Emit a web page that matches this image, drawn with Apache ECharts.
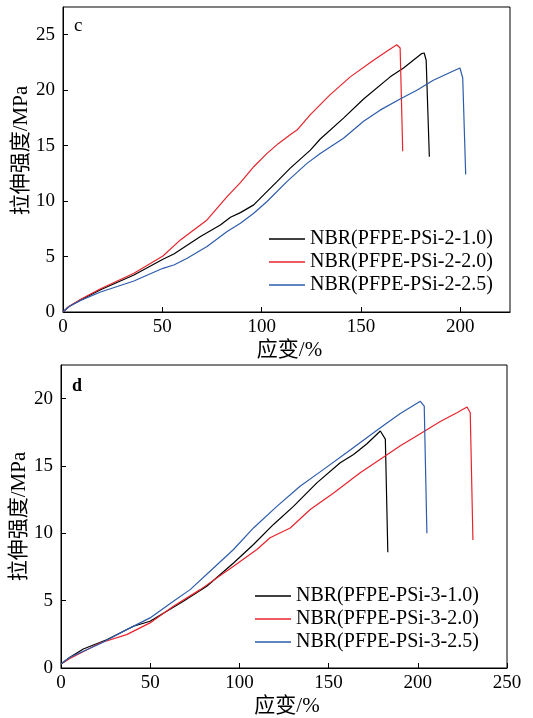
<!DOCTYPE html>
<html>
<head>
<meta charset="utf-8">
<script src="https://cdn.jsdelivr.net/npm/echarts@6/dist/echarts.min.js"></script>
<style>html,body{margin:0;padding:0;background:#fff;}#chart{width:533px;height:718px;}</style>
</head>
<body>
<div id="chart"></div>
<script>
// Panel c
var namesC = ['NBR(PFPE-PSi-2-1.0)', 'NBR(PFPE-PSi-2-2.0)', 'NBR(PFPE-PSi-2-2.5)'];
var strainC1 = [0, 3, 8.9, 18.9, 35.7, 50.3, 55.8, 69.2, 79.2, 84.3, 89.3, 96, 101, 107.7, 114.4, 124.5, 129.5, 141.2, 151.3, 164.7, 171.4, 180.6, 181.8, 182.8, 184.4];
var stressC1 = [0, 0.5, 1.08, 2.0, 3.34, 4.75, 5.23, 6.8, 7.85, 8.54, 8.96, 9.66, 10.56, 11.76, 12.97, 14.6, 15.6, 17.48, 19.2, 21.2, 22.0, 23.3, 23.35, 22.7, 14.0];
var strainC2 = [0, 3, 8.9, 18.9, 35.7, 50.3, 59.1, 72.5, 82.6, 89.3, 96, 102.7, 108.5, 115.2, 117.8, 124.5, 134.5, 144.6, 156.3, 163, 168, 168.8, 169.7, 171];
var stressC2 = [0, 0.5, 1.15, 2.1, 3.5, 5.05, 6.5, 8.3, 10.4, 11.67, 13.1, 14.3, 15.2, 16.1, 16.4, 17.8, 19.6, 21.2, 22.7, 23.5, 24.1, 24.2, 23.8, 14.5];
var strainC3 = [0, 3, 8.9, 18.9, 35.7, 50.3, 55.8, 62.5, 72.5, 82.6, 89.3, 96, 102.7, 112.7, 122.8, 129.5, 141.2, 151.3, 159.6, 169.7, 178.1, 186.4, 194.8, 199.8, 201.2, 202.7];
var stressC3 = [0, 0.5, 1.05, 1.8, 2.8, 3.94, 4.24, 4.84, 5.9, 7.25, 8.0, 8.9, 9.96, 11.76, 13.4, 14.3, 15.67, 17.2, 18.2, 19.2, 20.0, 20.9, 21.6, 22.0, 21.1, 12.4];
// Panel d
var namesD = ['NBR(PFPE-PSi-3-1.0)', 'NBR(PFPE-PSi-3-2.0)', 'NBR(PFPE-PSi-3-2.5)'];
var strainD1 = [0, 5, 12.5, 25.6, 40.6, 49.9, 68.6, 81.7, 96.7, 107.9, 119.1, 130.3, 143.4, 156.5, 164, 171.5, 179, 179.9, 181.8, 183.2];
var stressD1 = [0.3, 0.8, 1.41, 2.1, 3.1, 3.47, 4.96, 6.07, 7.8, 9.17, 10.66, 12.0, 13.75, 15.24, 15.86, 16.65, 17.6, 17.5, 17.0, 8.6];
var strainD2 = [0, 5, 21.9, 36.8, 49.9, 63, 78, 96.7, 109.8, 117.2, 128.5, 139.7, 152.8, 167.7, 179, 190.2, 201.4, 212.6, 221.9, 227.6, 229.4, 230.9];
var stressD2 = [0.3, 0.7, 1.86, 2.48, 3.35, 4.58, 5.82, 7.56, 8.8, 9.67, 10.4, 11.77, 13.0, 14.5, 15.5, 16.5, 17.4, 18.3, 18.96, 19.38, 18.96, 9.5];
var strainD3 = [0, 5, 21.9, 36.8, 49.9, 63, 72.4, 85.5, 96.7, 107.9, 121, 134, 147.2, 160.2, 175.2, 182.7, 190.2, 201.4, 202.3, 203.6, 205.1];
var stressD3 = [0.3, 0.8, 1.8, 2.85, 3.72, 4.96, 5.82, 7.43, 8.8, 10.4, 12.0, 13.5, 14.75, 16.0, 17.47, 18.2, 18.9, 19.8, 19.85, 19.45, 10.0];
var xTicksC = [0, 50, 100, 150, 200];
var yTicksC = [0, 5, 10, 15, 20, 25];
var xTicksD = [0, 50, 100, 150, 200, 250];
var yTicksD = [0, 5, 10, 15, 20];

var colors = ['#000000', '#e8232b', '#2d5cab'];
var FONT = "'Liberation Serif', 'Noto Sans CJK SC', serif";

function zip(xs, ys) { return xs.map(function (x, i) { return [x, ys[i]]; }); }

function xAxis(grid, max, ticks) {
  return {
    type: 'value', gridIndex: grid, min: 0, max: max,
    name: '应变/%', nameLocation: 'middle', nameGap: 28, nameMoveOverlap: false,
    nameTextStyle: { fontFamily: FONT, fontSize: 21, color: '#000', padding: [0, 0, 0, 6] },
    axisLine: { show: true, lineStyle: { color: '#000', width: 1 } },
    axisTick: { show: true, inside: true, length: 5, customValues: ticks, lineStyle: { color: '#000' } },
    axisLabel: { customValues: ticks, fontFamily: FONT, fontSize: 19, color: '#000', margin: 6 },
    splitLine: { show: false }
  };
}
function yAxis(grid, max, ticks, shift) {
  return {
    type: 'value', gridIndex: grid, min: 0, max: max,
    name: '拉伸强度/MPa', nameLocation: 'middle', nameGap: 31, nameMoveOverlap: false,
    nameTextStyle: { fontFamily: FONT, fontSize: 21, color: '#000', padding: [0, 0, 0, shift] },
    axisLine: { show: true, lineStyle: { color: '#000', width: 1 } },
    axisTick: { show: true, inside: true, length: 5, customValues: ticks, lineStyle: { color: '#000' } },
    axisLabel: { customValues: ticks, fontFamily: FONT, fontSize: 19, color: '#000', margin: 8 },
    splitLine: { show: false }
  };
}
function line(name, xs, ys, c, idx) {
  return {
    name: name, type: 'line', xAxisIndex: idx, yAxisIndex: idx,
    data: zip(xs, ys), symbol: 'none', smooth: false,
    lineStyle: { color: c, width: 1.2 }, itemStyle: { color: c },
    animation: false
  };
}
function legend(names, left, top) {
  return {
    data: names.map(function (n) { return { name: n, icon: 'rect' }; }),
    orient: 'vertical', left: left, top: top,
    itemWidth: 36, itemHeight: 1.5, itemGap: 3,
    textStyle: { fontFamily: FONT, fontSize: 20, lineHeight: 18, color: '#000' },
    padding: 0, selectedMode: false
  };
}

var chart = echarts.init(document.getElementById('chart'));
chart.setOption({
  backgroundColor: '#fff',
  animation: false,
  grid: [
    { left: 63, top: 7, width: 447, height: 305, show: true, borderColor: '#000', borderWidth: 1, backgroundColor: 'transparent' },
    { left: 61, top: 365, width: 446, height: 303, show: true, borderColor: '#000', borderWidth: 1, backgroundColor: 'transparent' }
  ],
  xAxis: [xAxis(0, 225, xTicksC), xAxis(1, 250, xTicksD)],
  yAxis: [yAxis(0, 27.5, yTicksC, 18), yAxis(1, 22.5, yTicksD, 0)],
  legend: [legend(namesC, 269, 229), legend(namesD, 255, 586)],
  graphic: [
    { type: 'text', left: 74, top: 17, style: { text: 'c', font: '19px ' + FONT, fill: '#000' } },
    { type: 'text', left: 72, top: 377, style: { text: 'd', font: 'bold 18px ' + FONT, fill: '#000' } }
  ],
  series: [
    line(namesC[0], strainC1, stressC1, colors[0], 0),
    line(namesC[1], strainC2, stressC2, colors[1], 0),
    line(namesC[2], strainC3, stressC3, colors[2], 0),
    line(namesD[0], strainD1, stressD1, colors[0], 1),
    line(namesD[1], strainD2, stressD2, colors[1], 1),
    line(namesD[2], strainD3, stressD3, colors[2], 1)
  ]
});
</script>
</body>
</html>
